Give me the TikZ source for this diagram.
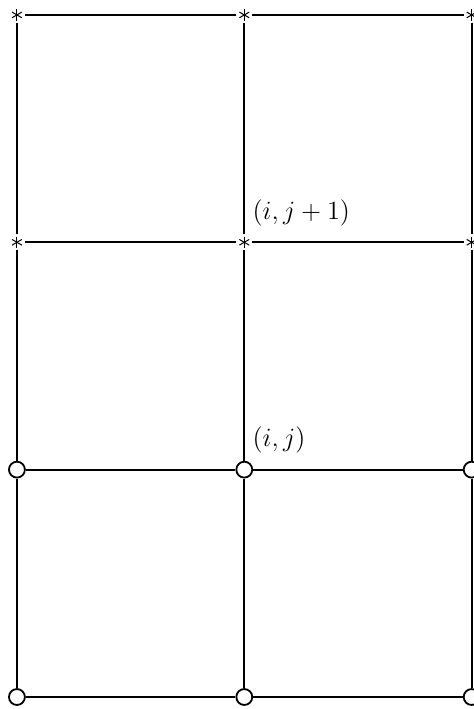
\documentclass[tikz,border=0pt]{standalone}
\usetikzlibrary{positioning}

\begin{document}
\begin{tikzpicture}[line width=0.9pt,
	star mark/.style={circle, inner sep=0pt, minimum size=0.25cm,
		path picture={\foreach \a in {90,210,330}
			\draw[line width=0.5pt] (path picture bounding box.center) ++(\a:0.1) -- ++(\a+180:0.2);}},
	ring mark/.style={circle, draw, inner sep=0pt, minimum size=0.28cm},
	point label/.style={anchor=base west, inner sep=0pt, font=\large, scale=1.1}]
	\useasboundingbox (-0.298,-0.211) rectangle (8.035,12.263);
	% Grid points:
	\foreach \i in {0,1,2} {
		\foreach \j in {0,1} \node[ring mark] (p\i\j) at (4*\i,4*\j) {};
		\foreach \j in {2,3} \node[star mark] (p\i\j) at (4*\i,4*\j) {};
	}
	% Grid lines:
	\foreach \i in {0,1,2} \foreach \j/\k in {0/1,1/2,2/3} \draw (p\i\j) -- (p\i\k);
	\foreach \j in {0,...,3} \foreach \i/\k in {0/1,1/2} \draw (p\i\j) -- (p\k\j);
	% Labels:
	\node[above right=0.40cm and 0.13cm of p11.center, point label] (l11) {$(i,j)$};
	\node[above right=0.40cm and 0.13cm of p12.center, point label] (l12) {$(i,j+1)$};
\end{tikzpicture}
\end{document}
